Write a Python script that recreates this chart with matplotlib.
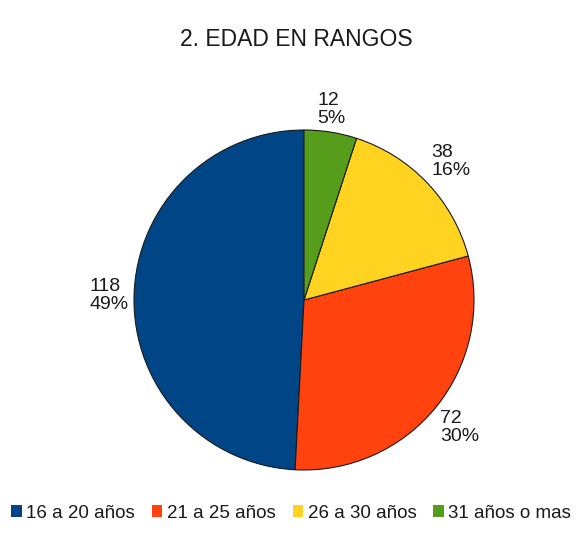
import numpy as np
import matplotlib
matplotlib.use("Agg")
import matplotlib.pyplot as plt
from matplotlib.patches import Patch

plt.rcParams['font.family'] = ['Liberation Sans', 'DejaVu Sans']

categories = ["16 a 20 años", "21 a 25 años", "26 a 30 años", "31 años o mas"]
counts = [118, 72, 38, 12]
colors = ["#004586", "#ff420e", "#ffd320", "#579d1c"]
title = "2. EDAD EN RANGOS"

W, H, DPI = 579, 538, 100
fig = plt.figure(figsize=(W / DPI, H / DPI), dpi=DPI)
ax = fig.add_axes([0, 0, 1, 1])

# pie centre and radius in pixels
cx, cy, rpx = 304, 300, 170

wedges, _ = ax.pie(counts, colors=colors, startangle=90, counterclock=True,
                   radius=1.0, center=(0, 0), frame=True,
                   wedgeprops=dict(edgecolor="#1a1a1a", linewidth=0.8))
ax.set_xlim(-cx / rpx, (W - cx) / rpx)
ax.set_ylim(-(H - cy) / rpx, cy / rpx)
ax.set_aspect("equal")
ax.axis("off")

total = sum(counts)
for w, n in zip(wedges, counts):
    th = np.deg2rad((w.theta1 + w.theta2) / 2)
    c, s = np.cos(th), np.sin(th)
    d = 1.03
    ha = "center" if abs(c) < 0.3 else ("left" if c > 0 else "right")
    va = "center" if abs(s) < 0.3 else ("bottom" if s > 0 else "top")
    pct = round(100 * n / total)
    ax.text(d * c, d * s, f"{n}\n{pct}%", ha=ha, va=va, multialignment="left",
            fontsize=14, color="#1a1a1a", linespacing=1.1)

fig.text(0.512, 1 - 39 / H, title, ha="center", va="center",
         fontsize=16.5, color="#1a1a1a")

handles = [Patch(facecolor=col, edgecolor="none") for col in colors]
fig.legend(handles, categories, loc="center", bbox_to_anchor=(0.503, 1 - 513 / H),
           ncol=4, frameon=False, fontsize=13.5, handlelength=0.55, handleheight=0.55,
           handletextpad=0.25, columnspacing=0.9, labelcolor="#1a1a1a",
           borderpad=0.2)

fig.savefig("out.png", dpi=DPI, facecolor="white")
